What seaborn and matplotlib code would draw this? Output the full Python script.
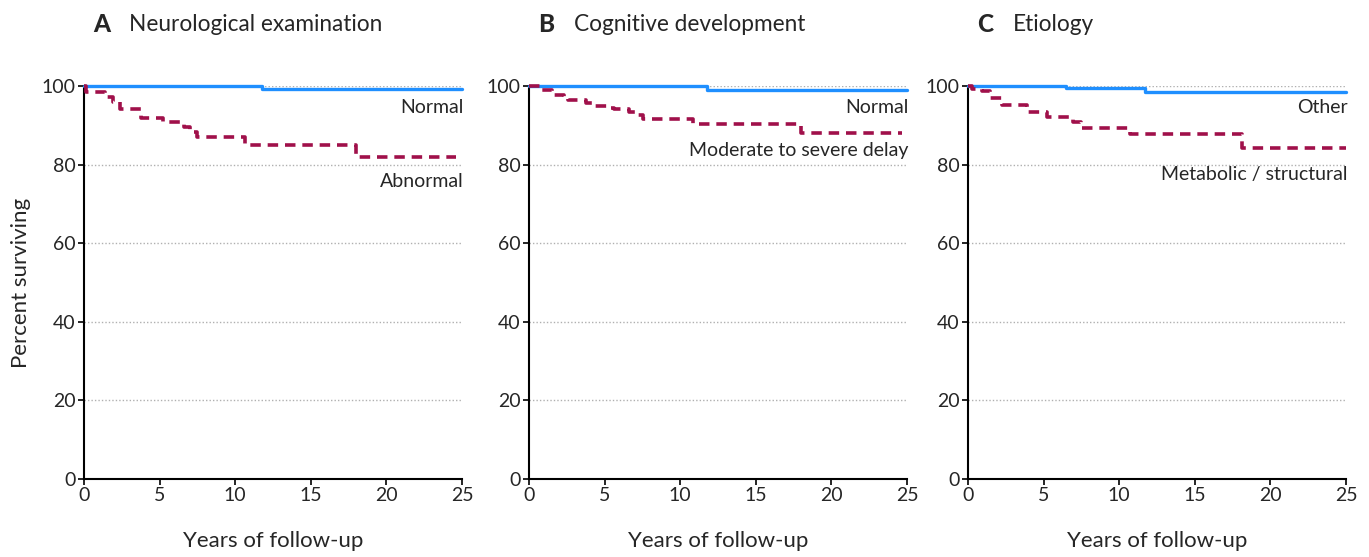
import matplotlib
matplotlib.use("Agg")
import matplotlib.pyplot as plt
import seaborn as sns
import pandas as pd

sns.set_style("white")
plt.rcParams['font.family'] = ['Lato', 'DejaVu Sans']

# ---- data (years, percent surviving) ----
a_normal_t = [0, 11.75, 25]
a_normal_s = [100, 99.3, 99.3]
a_abn_t = [0, 0.15, 1.4, 1.95, 2.4, 3.8, 5.25, 6.6, 7.0, 7.45, 10.65, 18.0, 24.6]
a_abn_s = [100, 98.5, 97.3, 96.0, 94.1, 91.9, 90.9, 89.6, 88.4, 86.9, 85.0, 82.0, 82.0]

b_normal_t = [0, 11.8, 25]
b_normal_s = [100, 99.0, 99.0]
b_delay_t = [0, 0.7, 1.5, 2.3, 2.6, 3.8, 4.25, 5.15, 5.6, 6.6, 7.0, 7.55, 10.85, 18.0, 24.65]
b_delay_s = [100, 99.0, 97.7, 96.9, 96.4, 95.6, 95.0, 94.3, 94.1, 93.3, 92.6, 91.5, 90.3, 88.0, 88.0]

c_other_t = [0, 6.5, 11.7, 25]
c_other_s = [100, 99.4, 98.6, 98.6]
c_meta_t = [0, 0.25, 0.9, 1.45, 2.25, 3.9, 5.2, 6.95, 7.5, 10.7, 18.1, 25]
c_meta_s = [100, 99.2, 98.7, 96.9, 95.2, 93.3, 92.2, 90.9, 89.4, 87.7, 84.3, 84.3]

panels = [
    ("A", "Neurological examination",
     (a_normal_t, a_normal_s, "Normal", 94.6),
     (a_abn_t, a_abn_s, "Abnormal", 75.6)),
    ("B", "Cognitive development",
     (b_normal_t, b_normal_s, "Normal", 94.6),
     (b_delay_t, b_delay_s, "Moderate to severe delay", 83.7)),
    ("C", "Etiology",
     (c_other_t, c_other_s, "Other", 94.6),
     (c_meta_t, c_meta_s, "Metabolic / structural", 77.6)),
]

x_ticks = [0, 5, 10, 15, 20, 25]
y_ticks = [0, 20, 40, 60, 80, 100]

BLUE = "#1f8fff"
RED = "#a0104a"

fig = plt.figure(figsize=(13.69, 5.57), dpi=100)
lefts = [84 / 1369, 529 / 1369, 968 / 1369]
W = 378 / 1369
B = 1 - 479 / 557
H = (479 - 86) / 557

for i, (letter, title, top, bot) in enumerate(panels):
    ax = fig.add_axes([lefts[i], B, W, H])
    for yv in [20, 40, 60, 80, 100]:
        ax.axhline(yv, color="#b0b0b0", lw=1.0, ls=(0, (1, 1.5)), zorder=0)
    df_top = pd.DataFrame({"t": top[0], "s": top[1]})
    df_bot = pd.DataFrame({"t": bot[0], "s": bot[1]})
    sns.lineplot(data=df_top, x="t", y="s", ax=ax, drawstyle="steps-post",
                 color=BLUE, lw=2.4, estimator=None, clip_on=False, zorder=3)
    sns.lineplot(data=df_bot, x="t", y="s", ax=ax, drawstyle="steps-post",
                 color=RED, lw=2.6, estimator=None, clip_on=False, zorder=4)
    ax.lines[-1].set_dashes((2.9, 1.9))
    ax.set_xlim(0, 25)
    ax.set_ylim(0, 100)
    ax.set_xticks(x_ticks)
    ax.set_yticks(y_ticks)
    ax.tick_params(axis="both", which="both", direction="out", length=4,
                   width=1.2, color="black", labelsize=14, pad=2,
                   left=True, bottom=True)
    for sp in ["top", "right"]:
        ax.spines[sp].set_visible(False)
    for sp in ["left", "bottom"]:
        ax.spines[sp].set_color("black")
        ax.spines[sp].set_linewidth(1.5)
    ax.set_xlabel("Years of follow-up", fontsize=16, labelpad=19)
    if i == 0:
        ax.set_ylabel("Percent surviving", fontsize=16, labelpad=8)
    else:
        ax.set_ylabel("")
    ax.text(25.1, top[3], top[2], ha="right", va="center", fontsize=14)
    ax.text(25.1, bot[3], bot[2], ha="right", va="center", fontsize=14)
    ax.text(9 / 378, 1.157, letter, transform=ax.transAxes, fontsize=17.5,
            fontweight="black", va="center", ha="left")
    ax.text(45 / 378, 1.157, title, transform=ax.transAxes,
            fontsize=16.3, va="center", ha="left")

fig.savefig("out.png", dpi=100)
